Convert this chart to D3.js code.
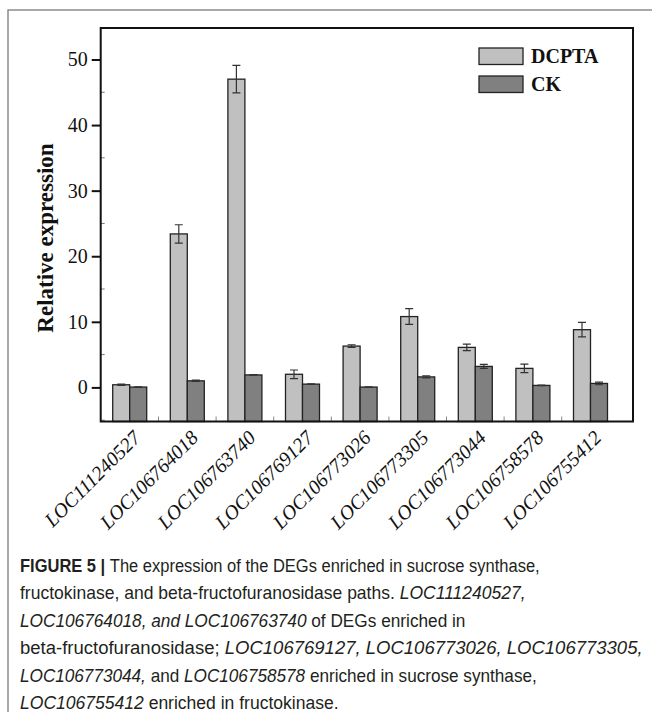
<!DOCTYPE html>
<html>
<head>
<meta charset="utf-8">
<script src="https://cdn.jsdelivr.net/npm/d3@7"></script>
<style>
  html, body { margin: 0; padding: 0; background: #fff; }
  svg { display: block; }
</style>
</head>
<body>
<svg id="chart" width="652" height="712"></svg>
<script>
// ---- data ----
const genes = ["LOC111240527", "LOC106764018", "LOC106763740", "LOC106769127", "LOC106773026",
               "LOC106773305", "LOC106773044", "LOC106758578", "LOC106755412"];
const dcpta    = [0.4, 23.4, 47.0, 2.0, 6.3, 10.8, 6.1, 2.9, 8.8];
const dcptaErr = [0.1, 1.4, 2.1, 0.65, 0.2, 1.2, 0.5, 0.65, 1.1];
const ck       = [0.05, 1.0, 1.9, 0.5, 0.05, 1.6, 3.2, 0.3, 0.6];
const ckErr    = [0.05, 0.1, 0.05, 0.05, 0.05, 0.15, 0.3, 0.05, 0.2];
const yTicks   = [0, 10, 20, 30, 40, 50];
const seriesNames = ["DCPTA", "CK"];
const seriesColors = ["#c0c0c0", "#808080"];
const yTitle = "Relative expression";

const svg = d3.select("#chart");
svg.append("rect").attr("width", 652).attr("height", 712).attr("fill", "#fff");

// outer figure frame (left + top)
svg.append("path").attr("d", "M8,712 V10 H652")
  .attr("fill", "none").attr("stroke", "#8c8c8c").attr("stroke-width", 1.5);

// ---- plot geometry ----
const L = 100.7, R = 633, T = 28, B = 421.5;
const y = d3.scaleLinear().domain([-5.2, 54.8]).range([B, T]);
const x = d3.scaleBand().domain(genes).range([100.9, 619.3]).padding(0);
const bw = 17;
const cx = g => x(g) + x.bandwidth() / 2;

const serif = "'Liberation Serif', 'Times New Roman', serif";

// minor inward ticks on left axis
const minor = d3.range(-5, 55, 5).filter(v => v % 10 !== 0);
svg.append("g").selectAll("line").data(minor).join("line")
  .attr("x1", L).attr("x2", L + 4)
  .attr("y1", d => y(d)).attr("y2", d => y(d))
  .attr("stroke", "#777").attr("stroke-width", 1);

// group-boundary ticks on bottom axis
svg.append("g").selectAll("line").data(genes.slice(1)).join("line")
  .attr("x1", d => x(d)).attr("x2", d => x(d))
  .attr("y1", B).attr("y2", B - 5)
  .attr("stroke", "#888").attr("stroke-width", 1);

// bars
const rows = genes.map((g, i) => ({g, v: [dcpta[i], ck[i]], e: [dcptaErr[i], ckErr[i]]}));
const barG = svg.append("g");
rows.forEach(r => {
  [0, 1].forEach(s => {
    const x0 = cx(r.g) - bw + s * bw;
    barG.append("rect")
      .attr("x", x0).attr("width", bw)
      .attr("y", y(r.v[s])).attr("height", B - y(r.v[s]))
      .attr("fill", seriesColors[s]).attr("stroke", "#222").attr("stroke-width", 1.3);
    const xm = x0 + bw / 2;
    const hi = y(r.v[s] + r.e[s]), lo = y(r.v[s] - r.e[s]);
    barG.append("path")
      .attr("d", `M${xm - 4},${hi}H${xm + 4}M${xm},${hi}V${lo}M${xm - 4},${lo}H${xm + 4}`)
      .attr("fill", "none").attr("stroke", "#333").attr("stroke-width", 1.2);
  });
});

// plot frame
svg.append("rect").attr("x", L).attr("y", T).attr("width", R - L).attr("height", B - T)
  .attr("fill", "none").attr("stroke", "#111").attr("stroke-width", 2);

// y axis
const yAxis = d3.axisLeft(y).tickValues(yTicks).tickSize(9).tickPadding(4).tickFormat(d3.format("d"));
const ya = svg.append("g").attr("transform", `translate(${L},0)`).call(yAxis);
ya.select(".domain").remove();
ya.selectAll(".tick line").attr("stroke", "#111").attr("stroke-width", 2);
ya.selectAll(".tick text").attr("font-family", serif).attr("font-size", 20).attr("fill", "#111");

// y title
svg.append("text")
  .attr("transform", "translate(53,238) rotate(-90)")
  .attr("text-anchor", "middle")
  .attr("font-family", serif).attr("font-weight", "bold").attr("font-size", 23)
  .attr("fill", "#111").text(yTitle);

// x labels
svg.append("g").selectAll("text").data(genes).join("text")
  .attr("transform", d => `translate(${cx(d) + 12},439) rotate(-45)`)
  .attr("text-anchor", "end")
  .attr("font-family", serif).attr("font-style", "italic").attr("font-size", 20)
  .attr("fill", "#111").text(d => d);

// legend
const lg = svg.append("g");
seriesNames.forEach((n, i) => {
  lg.append("rect").attr("x", 479).attr("y", 48 + i * 28).attr("width", 44).attr("height", 16.5)
    .attr("fill", seriesColors[i]).attr("stroke", "#222").attr("stroke-width", 1.3);
  lg.append("text").attr("x", 531).attr("y", 63 + i * 28)
    .attr("font-family", serif).attr("font-weight", "bold").attr("font-size", 20)
    .attr("fill", "#111").text(n);
});

// caption
const capLines = [
  [["FIGURE 5 | ", "b"], ["The expression of the DEGs enriched in sucrose synthase,", "n"]],
  [["fructokinase, and beta-fructofuranosidase paths. ", "n"], ["LOC111240527,", "i"]],
  [["LOC106764018, and LOC106763740", "i"], [" of DEGs enriched in", "n"]],
  [["beta-fructofuranosidase; ", "n"], ["LOC106769127, LOC106773026, LOC106773305,", "i"]],
  [["LOC106773044,", "i"], [" and ", "n"], ["LOC106758578", "i"], [" enriched in sucrose synthase,", "n"]],
  [["LOC106755412", "i"], [" enriched in fructokinase.", "n"]]
];
const capWidths = [520, 506, 446, 623, 517, 319];
const cap = svg.append("g").attr("font-family", "'Liberation Sans', Arial, sans-serif")
  .attr("font-size", 19).attr("fill", "#231f20");
capLines.forEach((parts, i) => {
  const g = cap.append("g");
  const t = g.append("text").attr("x", 0).attr("y", 0);
  parts.forEach(([s, k]) => {
    const sp = t.append("tspan").text(s);
    if (k === "b") sp.attr("font-weight", "bold");
    if (k === "i") sp.attr("font-style", "italic");
  });
  const w = t.node().getComputedTextLength() || capWidths[i];
  const sx = capWidths[i] / w;
  g.attr("transform", `translate(20,${572 + i * 27.4}) scale(${sx},1)`);
});
</script>
</body>
</html>
